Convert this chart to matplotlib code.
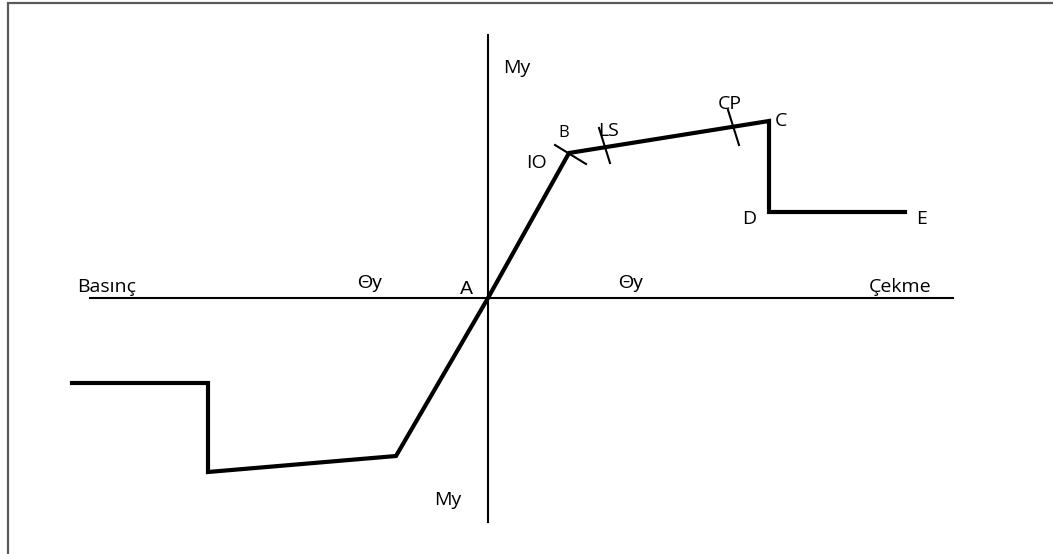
import matplotlib
matplotlib.use('Agg')
import matplotlib.pyplot as plt
from matplotlib.patches import Rectangle

# moment-rotation backbone (origin at A), pixel-like units
curve_x = [-416, -280, -280, -92, 0, 81, 281, 281, 417]
curve_y = [-85, -85, -174, -158, 0, 145, 177, 86, 86]

# performance level ticks on the B-C segment
tick_names = ['IO', 'LS', 'CP']
tick_x = [(67, 98), (111, 122), (240, 251)]
tick_y = [(153, 134), (170, 135), (188, 153)]

# axis extents
x_axis = (-398, 465)
y_axis = (-224, 263)

labels = [
    ('My', 29, 230, 'Open Sans', 14),
    ('IO', 48, 135, 'Open Sans', 14),
    ('B', 76, 165, 'Open Sans', 12),
    ('LS', 121, 167, 'Open Sans', 14),
    ('CP', 242, 194, 'Open Sans', 14),
    ('C', 293, 177, 'Open Sans', 14),
    ('D', 261, 79, 'Open Sans', 14),
    ('E', 434, 79, 'Open Sans', 14),
    ('Basınç', -381, 11, 'Open Sans', 14),
    ('Θy', -118, 15, 'Liberation Sans', 14),
    ('A', -22, 9, 'Liberation Sans', 14),
    ('Θy', 143, 15, 'Liberation Sans', 14),
    ('Çekme', 412, 11, 'Open Sans', 14),
    ('My', -40, -202, 'Open Sans', 14),
]

fig = plt.figure(figsize=(10.53, 5.54), dpi=100)
ax = fig.add_axes([0, 0, 1, 1])
ax.set_xlim(-488, 1053 - 488)
ax.set_ylim(298 - 554, 298)
ax.axis('off')

# page frame (left and top edges only visible)
fig.patches.append(Rectangle((8 / 1053, -0.1), 1.2, 1.1 - 3 / 554,
                             transform=fig.transFigure, fill=False,
                             ec='#5a5a5a', lw=1.6))

ax.plot(x_axis, (0, 0), color='black', lw=1.5)
ax.plot((0, 0), y_axis, color='black', lw=1.5)

ax.plot(curve_x, curve_y, color='black', lw=3, solid_joinstyle='miter')

for tx, ty in zip(tick_x, tick_y):
    ax.plot(tx, ty, color='black', lw=1.5)

for text, x, y, fam, size in labels:
    ax.text(x, y, text, ha='center', va='center', fontsize=size,
            family=[fam, 'DejaVu Sans'])

fig.savefig('out.png', dpi=100)
